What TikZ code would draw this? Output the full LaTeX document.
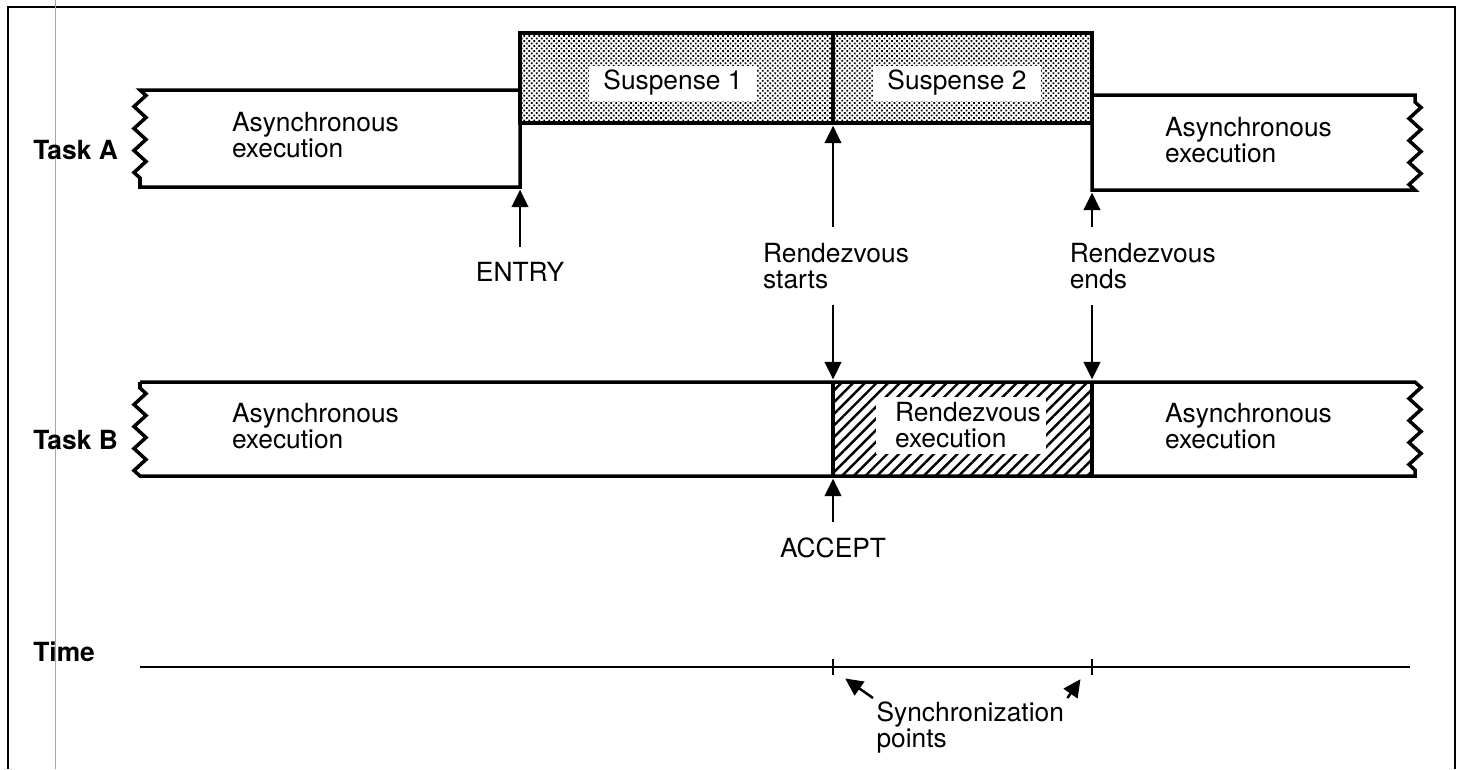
\documentclass[tikz,border=0pt]{standalone}
\usepackage{fontspec}
\setmainfont{TeX Gyre Heros}
\usepackage{tikz}
\usetikzlibrary{arrows.meta, positioning, patterns.meta, decorations.pathmorphing}
\tikzstyle{arrow} = [line width=1.4pt, shorten >=1.5pt, -{Triangle[length=10pt, width=9.5pt]}]
\tikzstyle{tline} = [line width=2pt]
\tikzstyle{lbl} = [align=left, inner sep=0pt, outer sep=9pt,
font=\fontsize{15}{14.8}\selectfont]
\tikzstyle{task} = [anchor=west, inner sep=0pt,
font=\bfseries\fontsize{15}{14.8}\selectfont]
\tikzstyle{whitebox} = [fill=white, inner sep=0pt, align=left,
font=\fontsize{15}{14.8}\selectfont]
\tikzstyle{wiggle} = [decoration={zigzag, segment length=0.44cm, amplitude=0.12cm}]
\tikzstyle{stipple} = [pattern={Dots[radius=0.7pt, distance=2pt, angle=45]}]
\tikzstyle{hatch} = [pattern={Lines[angle=45, distance=4.7pt, line width=1.4pt]}]

\begin{document}
\begin{tikzpicture}[x=0.02cm, y=-0.02cm]
\useasboundingbox (0,0) rectangle (1462,769);
% frame and scan line
\draw[line width=1.2pt] (8,769) -- (8,7) -- (1455,7) -- (1455,769);
\draw[gray!70, line width=0.4pt] (55,0) -- (55,769);

% key points
\coordinate (entrypt) at (520,187);
\coordinate (startA) at (833,123);
\coordinate (endA) at (1092,190);
\coordinate (startB) at (833,382);
\coordinate (endB) at (1092,382);
\coordinate (acceptpt) at (833,476);
\coordinate (tk1) at (833,667);
\coordinate (tk2) at (1092,667);

% Task A
\draw[tline, stipple] (520,33) rectangle (1092,123);
\draw[tline] (833,33) -- (833,123);
\draw[tline] (520,90) -- (140,90) decorate[wiggle]{-- (140,187)} -- (520,187) -- (520,123);
\draw[tline] (1092,123) -- (1092,190) -- (1415,190) decorate[wiggle]{-- (1415,95)} -- (1092,95);
\node[whitebox, minimum width=3.36cm, minimum height=0.7cm] (susp1) at (673,83) {Suspense 1};
\node[whitebox, minimum width=3.36cm, minimum height=0.7cm] (susp2) at (957,83) {Suspense 2};
\node[task] (taskA) at (33,150) {Task A};
\node[lbl, anchor=west, outer sep=0pt] (asyncA1) at (232,135) {Asynchronous\\execution};
\node[lbl, anchor=west, outer sep=0pt] (asyncA2) at (1165,140) {Asynchronous\\execution};

% Task B
\fill[hatch] (833,382) rectangle (1092,476);
\draw[tline] (140,382) -- (1415,382) decorate[wiggle]{-- (1415,476)} -- (140,476) decorate[wiggle]{-- (140,382)};
\draw[tline] (833,382) -- (833,476);
\draw[tline] (1092,382) -- (1092,476);
\node[whitebox, minimum width=3.4cm, minimum height=1.14cm, text width=2.64cm, inner xsep=0.38cm] (rexec) at (961,425) {Rendezvous\\execution};
\node[task] (taskB) at (33,440) {Task B};
\node[lbl, anchor=west, outer sep=0pt] (asyncB1) at (232,426) {Asynchronous\\execution};
\node[lbl, anchor=west, outer sep=0pt] (asyncB2) at (1165,426) {Asynchronous\\execution};

% events
\node[lbl] (entry) at (520,272) {ENTRY};
\node[lbl] (rstart) at (836,266) {Rendezvous\\starts};
\node[lbl, anchor=west] (rend) at (1054,266) {Rendezvous\\ends};
\node[lbl] (accept) at (833,548) {ACCEPT};
\draw[arrow] (entry) -- (entrypt);
\draw[arrow] (rstart.north -| startA) -- (startA);
\draw[arrow] (rend.north -| endA) -- (endA);
\draw[arrow] (rstart.south -| startB) -- (startB);
\draw[arrow] (rend.south -| endB) -- (endB);
\draw[arrow] (accept) -- (acceptpt);

% time axis
\node[task] (timelbl) at (33,652) {Time};
\draw[line width=1.3pt] (140,667) -- (1410,667);
\draw[line width=1.3pt] ([yshift=0.16cm]tk1) -- ([yshift=-0.16cm]tk1);
\draw[line width=1.3pt] ([yshift=0.16cm]tk2) -- ([yshift=-0.16cm]tk2);
\node[lbl, anchor=north west, outer sep=2pt] (sync) at (873,698) {Synchronization\\points};
\draw[arrow] (sync.north west) -- ([xshift=0.2cm, yshift=-0.2cm]tk1);
\draw[arrow] (sync.north east) -- ([xshift=-0.2cm, yshift=-0.2cm]tk2);
\end{tikzpicture}
\end{document}
